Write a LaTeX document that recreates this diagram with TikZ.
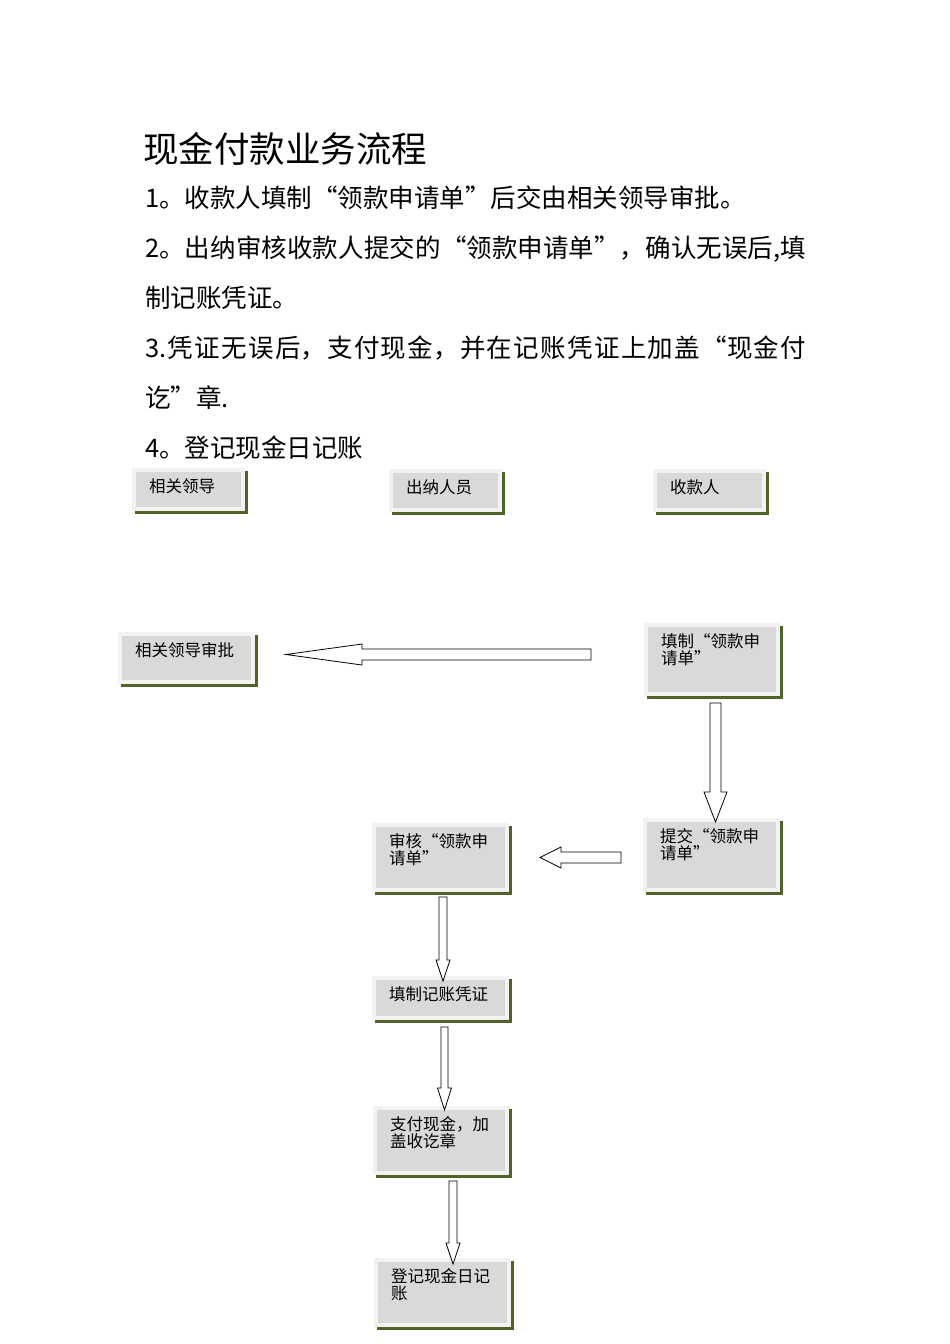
\documentclass[tikz,border=0pt]{standalone}
\usepackage{fontspec}
\setmainfont{Noto Sans CJK SC}
\usetikzlibrary{shadows}
\XeTeXlinebreaklocale "zh"
\XeTeXlinebreakskip=0pt plus 2pt minus 0.3pt

\definecolor{framegray}{HTML}{F2F2F2}
\definecolor{boxgray}{HTML}{D9D9D9}
\definecolor{shadowolive}{HTML}{4F6228}

\tikzset{
  stepbox/.style={rectangle, draw=framegray, line width=4pt, fill=boxgray,
    drop shadow={shadow xshift=2.5pt, shadow yshift=-2.5pt, fill=shadowolive, draw=shadowolive, opacity=1},
    anchor=north west, outer sep=0pt, inner xsep=15pt, inner ysep=9pt,
    text height=13pt, align=left, font=\fontsize{16.5}{17}\selectfont},
  blockarrow/.style={draw=black, line width=0.8pt, fill=white}
}

\begin{document}
\begin{tikzpicture}[x=1pt, y=-1pt]
    \path[use as bounding box, fill=white] (0,0) rectangle (950,1344);

    % Heading and steps
    \node[anchor=base west, inner sep=0pt, font=\fontsize{35.5}{42}\selectfont] (title) at (143,162) {现金付款业务流程};
    \node[anchor=base west, inner sep=0pt, text width=661pt, align=justify, font=\fontsize{25.5}{50}\selectfont] (steps) at (145,207.5)
        {1。收款人填制“领款申请单”后交由相关领导审批。\par
         2。出纳审核收款人提交的“领款申请单”，确认无误后,填\linebreak 制记账凭证。\par
         3.凭证无误后，支付现金，并在记账凭证上加盖“现金付\linebreak 讫”章.\par
         4。登记现金日记账};

    % Roles
    \node[stepbox, text width=79pt, text depth=8pt] (leader) at (134,470) {相关领导};
    \node[stepbox, text width=79pt, text depth=8pt] (cashier) at (391,471) {出纳人员};
    \node[stepbox, text width=79pt, text depth=8pt] (payee) at (655,471) {收款人};

    % Steps of the flow
    \node[stepbox, text width=103pt, text depth=17pt] (approve) at (120,634) {相关领导审批};
    \node[stepbox, text width=102pt, text depth=38pt] (fillform) at (646,625) {填制“领款申\\请单”};
    \node[stepbox, text width=103pt, text depth=39pt] (submit) at (645,820) {提交“领款申\\请单”};
    \node[stepbox, text width=103pt, text depth=34pt] (review) at (374,825) {审核“领款申\\请单”};
    \node[stepbox, text width=103pt, text depth=9pt] (voucher) at (374,978) {填制记账凭证};
    \node[stepbox, text width=102pt, text depth=34pt] (pay) at (375,1108) {支付现金，加\\盖收讫章};
    \node[stepbox, text width=103pt, text depth=34pt] (journal) at (376,1260) {登记现金日记\\账};

    % Hollow arrows
    \draw[blockarrow] (591,649) -- (362,649) -- (362,644) -- (286,654.5) -- (362,665) -- (362,660) -- (591,660) -- cycle; % fillform -> approve
    \draw[blockarrow] (710,703) -- (721,703) -- (721,792) -- (727,792) -- (715.5,822) -- (704,792) -- (710,792) -- cycle; % fillform -> submit
    \draw[blockarrow] (621,852) -- (561,852) -- (561,847) -- (540,857.5) -- (561,868) -- (561,863) -- (621,863) -- cycle; % submit -> review
    \draw[blockarrow] (439,897) -- (447,897) -- (447,960) -- (450,960) -- (443,981) -- (436,960) -- (439,960) -- cycle; % review -> voucher
    \draw[blockarrow] (441,1027) -- (448,1027) -- (448,1088) -- (451.5,1088) -- (444.5,1110) -- (437.5,1088) -- (441,1088) -- cycle; % voucher -> pay
    \draw[blockarrow] (449,1181) -- (457,1181) -- (457,1243) -- (460,1243) -- (453,1264) -- (446,1243) -- (449,1243) -- cycle; % pay -> journal
\end{tikzpicture}
\end{document}
